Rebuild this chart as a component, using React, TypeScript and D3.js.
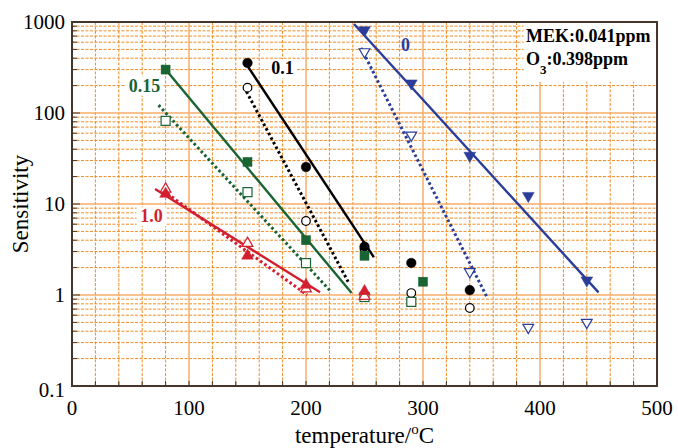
import * as d3 from "d3";

const W = 678;
const H = 448;
const margin = { top: 22, right: 21, bottom: 62, left: 72 };

// x ticks (temperature, °C) and y ticks (sensitivity, log)
const xMajor = [0, 100, 200, 300, 400, 500];
const yMajor = [0.1, 1, 10, 100, 1000];

// measured points: [temperature, sensitivity]
const blueFilled = [[250, 815], [290, 212], [340, 34], [390, 12.3], [440, 1.45]];
const blueOpen = [[250, 470], [290, 57], [340, 1.8], [390, 0.44], [440, 0.5]];
const blackFilled = [[150, 355], [200, 25.5], [250, 3.4], [290, 2.25], [340, 1.13]];
const blackOpen = [[150, 190], [200, 6.5], [250, 3.2], [290, 1.05], [340, 0.72]];
const greenFilled = [[80, 300], [150, 29], [200, 4.0], [250, 2.7], [300, 1.4]];
const greenOpen = [[80, 82], [150, 13.5], [200, 2.24], [250, 0.95], [290, 0.84]];
const redFilled = [[80, 12.9], [150, 2.7], [200, 1.29], [250, 1.1]];
const redOpen = [[80, 14.6], [150, 3.7], [200, 1.17], [250, 0.97]];

// fitted lines (end points)
const blueSolid = [[241, 950], [450, 1.07]];
const blueDotted = [[247, 520], [355, 0.93]];
const blackSolid = [[148, 360], [258, 2.6]];
const blackDotted = [[147, 193], [236, 1.4]];
const greenSolid = [[77, 335], [239, 1.05]];
const greenDotted = [[74, 122], [221, 1.1]];
const redSolid = [[71, 14.6], [212, 1.07]];
const redDotted = [[78, 14], [201, 1.0]];

const BLUE = "#2a3d98";
const BLACK = "#000000";
const GREEN = "#1a6333";
const RED = "#d21f2f";
const GRID_MINOR = "#f08c22";
const GRID_MAJOR = "#f6ad68";
const FRAME = "#45352a";
const FONT = "'Liberation Serif', 'Times New Roman', serif";

type Pt = number[];

export default function App() {
  const iw = W - margin.left - margin.right;
  const ih = H - margin.top - margin.bottom;
  const x = d3.scaleLinear().domain([0, 500]).range([0, iw]);
  const y = d3.scaleLog().domain([0.1, 1000]).range([ih, 0]);

  const xMinor = d3.range(20, 500, 20).filter((v) => v % 100 !== 0);
  const yMinor: number[] = [];
  [0.1, 1, 10, 100].forEach((dec) => {
    for (let k = 2; k <= 9; k++) yMinor.push(dec * k);
  });

  const line = d3
    .line<Pt>()
    .x((d) => x(d[0]))
    .y((d) => y(d[1]));

  const marker = (shape: string, color: string, filled: boolean, pts: Pt[]) =>
    pts.map((d, i) => {
      const cx = x(d[0]);
      const cy = y(d[1]);
      const fill = filled ? color : "#fff";
      const sw = filled ? 0.5 : 1.2;
      if (shape === "circle")
        return <circle key={i} cx={cx} cy={cy} r={filled ? 4.8 : 4.3} fill={fill} stroke={color} strokeWidth={sw} />;
      if (shape === "square")
        return <rect key={i} x={cx - 4.5} y={cy - 4.5} width={9} height={9} fill={fill} stroke={color} strokeWidth={sw} />;
      const sym = d3.symbol().type(d3.symbolTriangle).size(filled ? 60 : 50)();
      const rot = shape === "down" ? 180 : 0;
      return (
        <path key={i} d={sym || ""} transform={`translate(${cx},${cy}) rotate(${rot})`} fill={fill} stroke={color} strokeWidth={sw} />
      );
    });

  const fit = (pts: Pt[], color: string, dotted: boolean) => (
    <path
      d={line(pts) || ""}
      fill="none"
      stroke={color}
      strokeWidth={dotted ? 3 : 2.4}
      strokeDasharray={dotted ? "2.6 2.6" : undefined}
    />
  );

  const tag = (text: string, color: string, cx: number, base: number, w: number) => (
    <g>
      <rect x={cx - w / 2} y={base - 15} width={w} height={19} fill="#fff" />
      <text x={cx} y={base} textAnchor="middle" fontWeight="bold" fontSize={18} fill={color}>
        {text}
      </text>
    </g>
  );

  return (
    <svg width={W} height={H} style={{ position: "absolute", left: 0, top: 0, background: "#fff" }} fontFamily={FONT}>
      <defs>
        <clipPath id="plot">
          <rect x={0} y={0} width={iw} height={ih} />
        </clipPath>
      </defs>
      <g transform={`translate(${margin.left},${margin.top})`}>
        {/* grid */}
        {xMinor.map((v) => (
          <line key={"xm" + v} x1={x(v)} x2={x(v)} y1={0} y2={ih} stroke={GRID_MINOR} strokeWidth={1} strokeDasharray="3 1.5" />
        ))}
        {yMinor.map((v) => (
          <line key={"ym" + v} x1={0} x2={iw} y1={y(v)} y2={y(v)} stroke={GRID_MINOR} strokeWidth={1} strokeDasharray="3 1.5" />
        ))}
        {xMajor.slice(1, -1).map((v) => (
          <line key={"xM" + v} x1={x(v)} x2={x(v)} y1={0} y2={ih} stroke={GRID_MAJOR} strokeWidth={1.5} />
        ))}
        {yMajor.slice(1, -1).map((v) => (
          <line key={"yM" + v} x1={0} x2={iw} y1={y(v)} y2={y(v)} stroke={GRID_MAJOR} strokeWidth={1.5} />
        ))}

        {/* annotation box */}
        <rect x={x(386)} y={0} width={iw - x(386)} height={y(220)} fill="#fff" />

        <g clipPath="url(#plot)">
          {fit(blueSolid, BLUE, false)}
          {fit(blueDotted, BLUE, true)}
          {fit(blackSolid, BLACK, false)}
          {fit(blackDotted, BLACK, true)}
          {fit(greenSolid, GREEN, false)}
          {fit(greenDotted, GREEN, true)}
          {fit(redSolid, RED, false)}
          {fit(redDotted, RED, true)}
        </g>

        {marker("down", BLUE, true, blueFilled)}
        {marker("down", BLUE, false, blueOpen)}
        {marker("circle", BLACK, false, blackOpen)}
        {marker("circle", BLACK, true, blackFilled)}
        {marker("square", GREEN, false, greenOpen)}
        {marker("square", GREEN, true, greenFilled)}
        {marker("up", RED, false, redOpen)}
        {marker("up", RED, true, redFilled)}

        {tag("0.15", GREEN, x(62), y(200) + 6, 38)}
        {tag("0.1", BLACK, x(180), y(310) + 6, 28)}
        {tag("1.0", RED, x(68), y(6.3), 30)}
        <text x={x(285)} y={y(480)} textAnchor="middle" fontWeight="bold" fontSize={18} fill={BLUE}>
          0
        </text>

        <text x={x(388)} y={20} fontWeight="bold" fontSize={18}>
          MEK:0.041ppm
        </text>
        <text x={x(388)} y={43} fontWeight="bold" fontSize={18}>
          O<tspan fontSize={13} dy={9}>3</tspan>
          <tspan dy={-9}>:0.398ppm</tspan>
        </text>

        {/* ticks */}
        {d3.range(20, 500, 20).map((v) => (
          <line key={"bt" + v} x1={x(v)} x2={x(v)} y1={ih} y2={ih - 5} stroke={FRAME} strokeWidth={1} />
        ))}
        {yMinor.map((v) => (
          <line key={"lt" + v} x1={0} x2={5} y1={y(v)} y2={y(v)} stroke={FRAME} strokeWidth={1} />
        ))}
        {yMajor.map((v) => (
          <line key={"lT" + v} x1={0} x2={8} y1={y(v)} y2={y(v)} stroke={FRAME} strokeWidth={1} />
        ))}

        <rect x={0} y={0} width={iw} height={ih} fill="none" stroke={FRAME} strokeWidth={2} />

        {/* tick labels */}
        {xMajor.map((v) => (
          <text key={"xl" + v} x={x(v)} y={ih + 29} textAnchor="middle" fontSize={21}>
            {v}
          </text>
        ))}
        {yMajor.map((v) => (
          <text key={"yl" + v} x={-7} y={y(v) + (v === 0.1 ? 11 : 7)} textAnchor="end" fontSize={21}>
            {v}
          </text>
        ))}

        {/* axis titles */}
        <text x={iw / 2} y={ih + 57} textAnchor="middle" fontSize={23}>
          temperature/<tspan fontSize={15} dy={-9}>o</tspan>
          <tspan dy={9}>C</tspan>
        </text>
        <text transform={`translate(${-44},${ih / 2}) rotate(-90)`} textAnchor="middle" fontSize={23}>
          Sensitivity
        </text>
      </g>
    </svg>
  );
}
